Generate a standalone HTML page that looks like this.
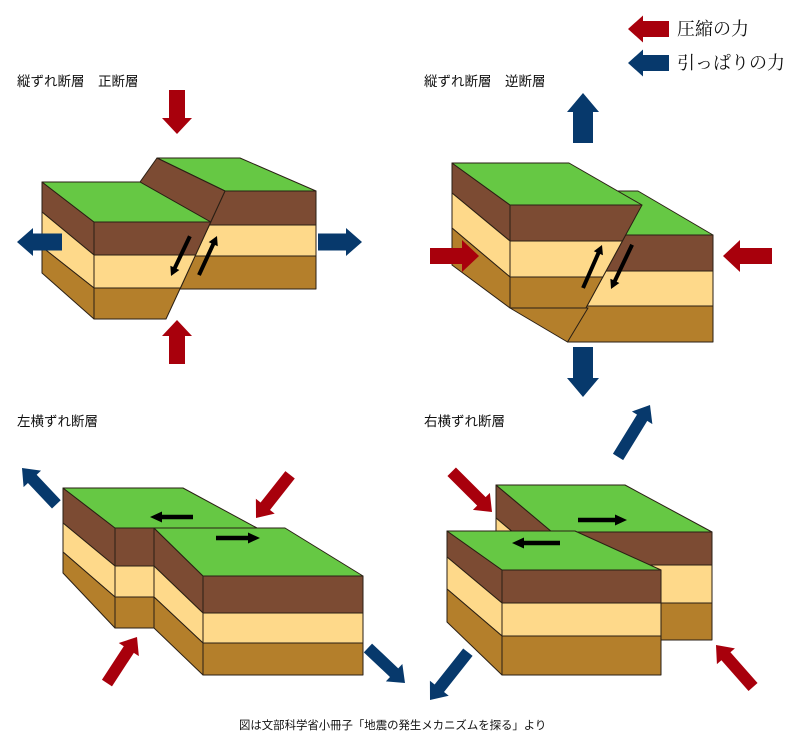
<!DOCTYPE html>
<html><head><meta charset="utf-8"><style>
html,body{margin:0;padding:0;background:#fff;}
svg{display:block}
.t{font-family:"Liberation Sans","Noto Sans CJK JP",sans-serif;font-size:13.5px;fill:#111}
.lg{font-family:"Liberation Serif","Noto Serif CJK SC",serif;font-size:18px;fill:#111}
.G{fill:#66c844}.B{fill:#7c4b33}.Y{fill:#fed98a}.O{fill:#b47f2b}
polygon.s{stroke:#2a1f14;stroke-width:1;stroke-linejoin:round}
.r{fill:#a8000c}.b{fill:#07396c}.k{fill:#000}
</style></head><body>
<svg width="800" height="750" viewBox="0 0 800 750" xmlns="http://www.w3.org/2000/svg">
<!-- Legend -->
<g transform="translate(628,29) rotate(180)"><polygon class="r" points="-41,-8 -15,-8 -15,-13.5 0,0 -15,13.5 -15,8 -41,8"/></g>
<text class="lg" x="677" y="35">圧縮の力</text>
<g transform="translate(628,63) rotate(180)"><polygon class="b" points="-41,-8 -15,-8 -15,-13.5 0,0 -15,13.5 -15,8 -41,8"/></g>
<text class="lg" x="677" y="69">引っぱりの力</text>

<!-- Labels -->
<text class="t" x="17" y="86">縦ずれ断層　正断層</text>
<text class="t" x="424" y="86">縦ずれ断層　逆断層</text>
<text class="t" x="17" y="426">左横ずれ断層</text>
<text class="t" x="424" y="426">右横ずれ断層</text>
<text class="t" x="239" y="729" style="font-size:11.4px">図は文部科学省小冊子「地震の発生メカニズムを探る」より</text>

<!-- Q1 normal fault -->
<polygon class="s G" points="157,158 240,158 316,191 225,191"/>
<polygon class="s B" points="225,191 316,191 316,225 209.4,225"/>
<polygon class="s Y" points="209.4,225 316,225 316,256 195,256"/>
<polygon class="s O" points="195,256 316,256 316,289 180,289"/>
<polygon class="s B" points="157,158 225,191 210.7,222 140,182"/>
<polygon class="s B" points="42,182 94,222 94,255 42,212"/>
<polygon class="s Y" points="42,212 94,255 94,288 42,247"/>
<polygon class="s O" points="42,247 94,288 94,319 42,273"/>
<polygon class="s G" points="42,182 140,182 210.7,222 94,222"/>
<polygon class="s B" points="94,222 210.7,222 195.6,255 94,255"/>
<polygon class="s Y" points="94,255 195.6,255 180.4,288 94,288"/>
<polygon class="s O" points="94,288 180.4,288 166,319 94,319"/>
<g transform="translate(171,276) rotate(115.4)"><polygon class="k" points="-44,-2 -9,-2 -9,-5 0,0 -9,5 -9,2 -44,2"/></g>
<g transform="translate(217,236) rotate(-65.2)"><polygon class="k" points="-43,-2 -9,-2 -9,-5 0,0 -9,5 -9,2 -43,2"/></g>
<g transform="translate(177,134) rotate(90)"><polygon class="r" points="-44,-8 -16,-8 -16,-15 0,0 -16,15 -16,8 -44,8"/></g>
<g transform="translate(177,320) rotate(-90)"><polygon class="r" points="-44,-8 -16,-8 -16,-15 0,0 -16,15 -16,8 -44,8"/></g>
<g transform="translate(17,242) rotate(180)"><polygon class="b" points="-45,-8.5 -16,-8.5 -16,-14 0,0 -16,14 -16,8.5 -45,8.5"/></g>
<g transform="translate(362,242)"><polygon class="b" points="-44,-8.5 -16,-8.5 -16,-14 0,0 -16,14 -16,8.5 -44,8.5"/></g>

<!-- Q2 reverse fault -->
<polygon class="s G" points="560,191 638,191 713,235 625.7,235"/>
<polygon class="s B" points="625.7,235 713,235 713,271 606,271"/>
<polygon class="s Y" points="606,271 713,271 713,306 587,306"/>
<polygon class="s O" points="587,306 713,306 713,342 567.5,342"/>
<polygon class="s O" points="510,308 588,308 567.5,342"/>
<polygon class="s B" points="452,163 510,205 510,241 452,193"/>
<polygon class="s Y" points="452,193 510,241 510,277 452,228"/>
<polygon class="s O" points="452,228 510,277 510,308 452,265"/>
<polygon class="s G" points="452,163 569,163 642,205 510,205"/>
<polygon class="s B" points="510,205 642,205 622.4,241 510,241"/>
<polygon class="s Y" points="510,241 622.4,241 602.8,277 510,277"/>
<polygon class="s O" points="510,277 602.8,277 585.9,308 510,308"/>
<g transform="translate(602,245) rotate(-66.2)"><polygon class="k" points="-47,-2 -9,-2 -9,-5 0,0 -9,5 -9,2 -47,2"/></g>
<g transform="translate(611,289) rotate(115.5)"><polygon class="k" points="-49,-2 -9,-2 -9,-5 0,0 -9,5 -9,2 -49,2"/></g>
<g transform="translate(583,93) rotate(-90)"><polygon class="b" points="-50,-10 -19,-10 -19,-16 0,0 -19,16 -19,10 -50,10"/></g>
<g transform="translate(583,397) rotate(90)"><polygon class="b" points="-50,-10 -19,-10 -19,-16 0,0 -19,16 -19,10 -50,10"/></g>
<g transform="translate(479,256)"><polygon class="r" points="-49,-8 -17,-8 -17,-16 0,0 -17,16 -17,8 -49,8"/></g>
<g transform="translate(723,256) rotate(180)"><polygon class="r" points="-49,-8 -17,-8 -17,-16 0,0 -17,16 -17,8 -49,8"/></g>

<!-- Q3 left-lateral -->
<polygon class="s B" points="63,488 115,528 115,566 63,523"/>
<polygon class="s Y" points="63,523 115,566 115,597 63,552"/>
<polygon class="s O" points="63,552 115,597 115,628 63,573"/>
<polygon class="s G" points="63,488 183,488 257,528 115,528"/>
<polygon class="s B" points="115,528 154,528 154,566 115,566"/>
<polygon class="s Y" points="115,566 154,566 154,597 115,597"/>
<polygon class="s O" points="115,597 154,597 154,628 115,628"/>
<polygon class="s B" points="154,528 203,576 203,613 154,566"/>
<polygon class="s Y" points="154,566 203,613 203,643 154,597"/>
<polygon class="s O" points="154,597 203,643 203,675 154,628"/>
<polygon class="s G" points="154,528 285,528 363,576 203,576"/>
<polygon class="s B" points="203,576 363,576 363,613 203,613"/>
<polygon class="s Y" points="203,613 363,613 363,643 203,643"/>
<polygon class="s O" points="203,643 363,643 363,675 203,675"/>
<g transform="translate(150,517) rotate(180)"><polygon class="k" points="-43,-2.2 -12,-2.2 -12,-5.5 0,0 -12,5.5 -12,2.2 -43,2.2"/></g>
<g transform="translate(260,538)"><polygon class="k" points="-44,-2.2 -12,-2.2 -12,-5.5 0,0 -12,5.5 -12,2.2 -44,2.2"/></g>
<g transform="translate(256,518) rotate(128.3)"><polygon class="r" points="-55,-6 -15,-6 -15,-12 0,0 -15,12 -15,6 -55,6"/></g>
<g transform="translate(137,637) rotate(-56.9)"><polygon class="r" points="-55,-6 -15,-6 -15,-12 0,0 -15,12 -15,6 -55,6"/></g>
<g transform="translate(22,468) rotate(-133.4)"><polygon class="b" points="-50,-6 -15,-6 -15,-12 0,0 -15,12 -15,6 -50,6"/></g>
<g transform="translate(405,683) rotate(43.4)"><polygon class="b" points="-51,-6 -15,-6 -15,-12 0,0 -15,12 -15,6 -51,6"/></g>

<!-- Q4 right-lateral -->
<polygon class="s B" points="496,485 552,532 552,565 496,518"/>
<polygon class="s Y" points="496,518 552,565 552,603 496,556"/>
<polygon class="s O" points="496,556 552,603 552,640 496,593"/>
<polygon class="s G" points="496,485 625,485 712,532 552,532"/>
<polygon class="s B" points="552,532 712,532 712,565 552,565"/>
<polygon class="s Y" points="552,565 712,565 712,603 552,603"/>
<polygon class="s O" points="552,603 712,603 712,640 552,640"/>
<polygon class="s B" points="447,531 502,570 502,603 447,557"/>
<polygon class="s Y" points="447,557 502,603 502,636 447,589"/>
<polygon class="s O" points="447,589 502,636 502,675 447,622"/>
<polygon class="s G" points="447,531 575,531 661,570 502,570"/>
<polygon class="s B" points="502,570 661,570 661,603 502,603"/>
<polygon class="s Y" points="502,603 661,603 661,636 502,636"/>
<polygon class="s O" points="502,636 661,636 661,675 502,675"/>
<g transform="translate(627,520)"><polygon class="k" points="-49,-2.2 -12,-2.2 -12,-5.5 0,0 -12,5.5 -12,2.2 -49,2.2"/></g>
<g transform="translate(512,543) rotate(180)"><polygon class="k" points="-48,-2.2 -12,-2.2 -12,-5.5 0,0 -12,5.5 -12,2.2 -48,2.2"/></g>
<g transform="translate(492,512) rotate(45)"><polygon class="r" points="-57,-6 -15,-6 -15,-12 0,0 -15,12 -15,6 -57,6"/></g>
<g transform="translate(716,645) rotate(-131.4)"><polygon class="r" points="-56,-6 -15,-6 -15,-12 0,0 -15,12 -15,6 -56,6"/></g>
<g transform="translate(650,405) rotate(-58.4)"><polygon class="b" points="-61,-6 -15,-6 -15,-12 0,0 -15,12 -15,6 -61,6"/></g>
<g transform="translate(430,700) rotate(128.4)"><polygon class="b" points="-61,-6 -15,-6 -15,-12 0,0 -15,12 -15,6 -61,6"/></g>
</svg>
</body></html>
